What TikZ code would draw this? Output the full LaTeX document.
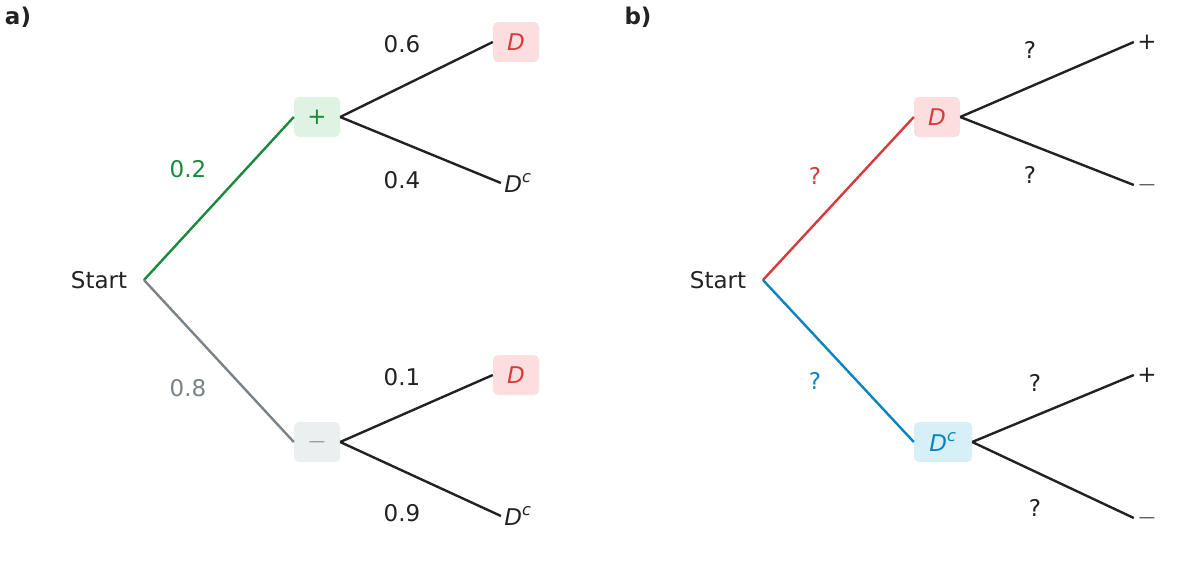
\documentclass[tikz,border=0pt]{standalone}
\usepackage{fontspec}
\setmainfont{DejaVu Sans}
\begin{document}
\definecolor{tg}{HTML}{1A8A3A}\definecolor{tgr}{HTML}{7A8288}
\definecolor{tr}{HTML}{D63A3A}\definecolor{tb}{HTML}{0A84C0}
\definecolor{fg}{HTML}{DFF3E2}\definecolor{fgr}{HTML}{ECEFF0}
\definecolor{fr}{HTML}{FBDEDD}\definecolor{fb}{HTML}{D7EFF7}
\definecolor{tk}{HTML}{222222}
\begin{tikzpicture}[x=1pt,y=-1pt,font=\fontsize{23}{26}\selectfont,
  box/.style={rounded corners=5pt,minimum height=40pt,minimum width=46pt,inner sep=3pt},
  lbl/.style={text=tk},
  ln/.style={line width=2.4pt,tk}]
\useasboundingbox (0,0) rectangle (1192,562);
\newcommand{\Dc}{\textit{D}\textsuperscript{\textit{c}}}
% a)
\node[font=\fontsize{23}{26}\selectfont\bfseries,text=tk] (la) at (18,17) {a)};
\node[lbl] (sa) at (99,280) {Start};
\coordinate (ja) at (144,280);
\node[box,fill=fg,text=tg] (p) at (317,117) {+};
\node[box,fill=fgr,text=tgr] (m) at (317,442) {$-$};
\node[box,fill=fr,text=tr,minimum width=46pt] (d1) at (516,42) {\textit{D}};
\node[lbl] (c1) at (518,183) {\Dc};
\node[box,fill=fr,text=tr] (d2) at (516,375) {\textit{D}};
\node[lbl] (c2) at (518,516) {\Dc};
\draw[line width=2.4pt,tg] (ja) -- (p.west);
\draw[line width=2.4pt,tgr] (ja) -- (m.west);
\draw[ln] (p.east) -- (d1.west); \draw[ln] (p.east) -- (c1.west);
\draw[ln] (m.east) -- (d2.west); \draw[ln] (m.east) -- (c2.west);
\node[text=tg] (l02) at (188,169) {0.2};
\node[text=tgr] (l08) at (188,388) {0.8};
\node[lbl] (l06) at (402,44) {0.6};
\node[lbl] (l04) at (402,180) {0.4};
\node[lbl] (l01) at (402,377) {0.1};
\node[lbl] (l09) at (402,513) {0.9};
% b)
\node[font=\fontsize{23}{26}\selectfont\bfseries,text=tk] (lb) at (638,17) {b)};
\node[lbl] (sb) at (718,280) {Start};
\coordinate (jb) at (763,280);
\node[box,fill=fr,text=tr] (bd) at (937,117) {\textit{D}};
\node[box,fill=fb,text=tb,minimum width=58pt] (bc) at (943,442) {\Dc};
\node[lbl] (b1) at (1147,42) {+};
\node[lbl] (b2) at (1147,185) {$-$};
\node[lbl] (b3) at (1147,375) {+};
\node[lbl] (b4) at (1147,518) {$-$};
\draw[line width=2.4pt,tr] (jb) -- (bd.west);
\draw[line width=2.4pt,tb] (jb) -- (bc.west);
\draw[ln] (bd.east) -- (b1.west); \draw[ln] (bd.east) -- (b2.west);
\draw[ln] (bc.east) -- (b3.west); \draw[ln] (bc.east) -- (b4.west);
\node[text=tr] (q1) at (815,176) {?};
\node[text=tb] (q2) at (815,381) {?};
\node[lbl] (q3) at (1030,50) {?};
\node[lbl] (q4) at (1030,175) {?};
\node[lbl] (q5) at (1035,383) {?};
\node[lbl] (q6) at (1035,508) {?};
\end{tikzpicture}
\end{document}
